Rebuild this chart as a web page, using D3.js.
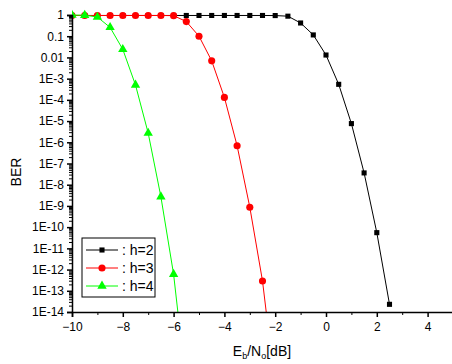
<!DOCTYPE html>
<html>
<head>
<meta charset="utf-8">
<script src="https://cdn.jsdelivr.net/npm/d3@7"></script>
<style>
  body { margin: 0; background: #fff; }
  svg { display: block; font-family: "Liberation Sans", Arial, sans-serif; }
</style>
</head>
<body>
<div id="chart"></div>
<script>
// Eb/No in dB
const ebnoH2 = [-10, -9.5, -9, -8.5, -8, -7.5, -7, -6.5, -6, -5.5, -5, -4.5, -4, -3.5, -3, -2.5, -2, -1.5, -1, -0.5, 0, 0.5, 1, 1.5, 2, 2.5];
const berH2 = [0.95, 0.95, 0.95, 0.95, 0.95, 0.95, 0.95, 0.95, 0.95, 0.95, 0.95, 0.95, 0.95, 0.95, 0.95, 0.95, 0.94, 0.88, 0.42, 0.115, 0.013, 5.4e-4, 7.6e-6, 3.6e-8, 5.5e-11, 2.3e-14];

const ebnoH3 = [-10, -9.5, -9, -8.5, -8, -7.5, -7, -6.5, -6, -5.5, -5, -4.5, -4, -3.5, -3, -2.5, -2];
const berH3 = [0.95, 0.95, 0.95, 0.95, 0.95, 0.95, 0.95, 0.95, 0.93, 0.49, 0.10, 6.9e-3, 1.3e-4, 6.9e-7, 8.7e-10, 2.9e-13, 3e-18];

const ebnoH4 = [-10, -9.5, -9, -8.5, -8, -7.5, -7, -6.5, -6, -5.5];
const berH4 = [0.99, 0.98, 0.8, 0.26, 0.024, 5e-4, 2.7e-6, 2.7e-9, 6e-13, 3e-18];

const yTickValues = [1, 0.1, 0.01, 1e-3, 1e-4, 1e-5, 1e-6, 1e-7, 1e-8, 1e-9, 1e-10, 1e-11, 1e-12, 1e-13, 1e-14];
const yTickLabels = ['1', '0.1', '0.01', '1E-3', '1E-4', '1E-5', '1E-6', '1E-7', '1E-8', '1E-9', '1E-10', '1E-11', '1E-12', '1E-13', '1E-14'];
const xTickValues = [-10, -8, -6, -4, -2, 0, 2, 4];

const series = [
  { name: ': h=2', x: ebnoH2, y: berH2, color: '#000000', marker: 'square' },
  { name: ': h=3', x: ebnoH3, y: berH3, color: '#ff0000', marker: 'circle' },
  { name: ': h=4', x: ebnoH4, y: berH4, color: '#00ff00', marker: 'triangle' },
];

const width = 452;
const height = 364;
const margins = { top: 15, right: -1, bottom: 52, left: 72 };
const chartWidth = width - margins.left - margins.right;
const chartHeight = height - margins.top - margins.bottom;

const svg = d3.select('#chart')
  .append('svg')
  .attr('width', width)
  .attr('height', height);

const g = svg.append('g')
  .attr('transform', `translate(${margins.left},${margins.top})`);

const xScale = d3.scaleLinear().domain([-10, 5]).range([0, chartWidth]);
const yScale = d3.scaleLog().domain([1e-14, 1]).range([chartHeight, 0]);

g.append('clipPath').attr('id', 'plot-clip')
  .append('rect')
  .attr('x', 0).attr('y', -6)
  .attr('width', chartWidth).attr('height', chartHeight + 6);

const markerSymbol = {
  square: d3.symbol().type(d3.symbolSquare).size(26),
  circle: d3.symbol().type(d3.symbolCircle).size(40),
  triangle: d3.symbol().type(d3.symbolTriangle).size(38),
};

const plot = g.append('g').attr('clip-path', 'url(#plot-clip)');

const lineGenerator = d3.line()
  .x(d => xScale(d[0]))
  .y(d => yScale(d[1]));

series.forEach(s => {
  const pts = s.x.map((v, i) => [v, s.y[i]]);
  plot.append('path')
    .attr('d', lineGenerator(pts))
    .attr('fill', 'none')
    .attr('stroke', s.color)
    .attr('stroke-width', 1);
  plot.selectAll(null)
    .data(pts.filter(p => p[1] >= 1e-14))
    .enter()
    .append('path')
    .attr('d', markerSymbol[s.marker])
    .attr('transform', p => `translate(${xScale(p[0])},${yScale(p[1])})`)
    .attr('fill', s.color);
});

// minor ticks
const yMinor = [];
for (let e = -14; e < 0; e++) {
  for (let m = 2; m <= 9; m++) yMinor.push(m * Math.pow(10, e));
}
g.append('g')
  .call(d3.axisLeft(yScale).tickValues(yMinor).tickSize(3).tickFormat(''))
  .call(a => a.select('.domain').remove());

const yAxis = g.append('g')
  .call(d3.axisLeft(yScale).tickValues(yTickValues).tickSize(5).tickPadding(3)
    .tickFormat((d, i) => yTickLabels[i]));
yAxis.selectAll('text').attr('font-size', 12).attr('fill', '#000');
yAxis.select('.domain').attr('stroke-width', 1.5);
yAxis.selectAll('.tick line').attr('stroke-width', 1.5);

const xMinor = [-9, -7, -5, -3, -1, 1, 3, 5];
g.append('g')
  .attr('transform', `translate(0,${chartHeight})`)
  .call(d3.axisBottom(xScale).tickValues(xMinor).tickSize(3).tickFormat(''))
  .call(a => a.select('.domain').remove());

const xAxis = g.append('g')
  .attr('transform', `translate(0,${chartHeight})`)
  .call(d3.axisBottom(xScale).tickValues(xTickValues).tickSize(5).tickPadding(5));
xAxis.selectAll('text').attr('font-size', 12).attr('fill', '#000');
xAxis.select('.domain').attr('stroke-width', 1.5);
xAxis.selectAll('.tick line').attr('stroke-width', 1.5);

// axis titles
svg.append('text')
  .attr('transform', `translate(21,172) rotate(-90)`)
  .attr('text-anchor', 'middle')
  .attr('font-size', 14)
  .text('BER');

const xTitle = svg.append('text')
  .attr('x', 262)
  .attr('y', 356)
  .attr('text-anchor', 'middle')
  .attr('font-size', 14);
xTitle.append('tspan').text('E');
xTitle.append('tspan').attr('font-size', 9).attr('dy', 3).text('b');
xTitle.append('tspan').attr('dy', -3).text('/N');
xTitle.append('tspan').attr('font-size', 9).attr('dy', 3).text('o');
xTitle.append('tspan').attr('dy', -3).text('[dB]');

// legend
const legend = svg.append('g').attr('transform', 'translate(82,238)');
legend.append('rect')
  .attr('width', 73).attr('height', 59)
  .attr('fill', '#fff').attr('stroke', '#000').attr('stroke-width', 1);

series.forEach((s, i) => {
  const row = legend.append('g').attr('transform', `translate(0,${12 + i * 18})`);
  row.append('line')
    .attr('x1', 4).attr('x2', 36)
    .attr('stroke', s.color).attr('stroke-width', 1);
  row.append('path')
    .attr('d', markerSymbol[s.marker])
    .attr('transform', 'translate(20,0)')
    .attr('fill', s.color);
  row.append('text')
    .attr('x', 40).attr('y', 5)
    .attr('font-size', 14)
    .text(s.name);
});
</script>
</body>
</html>
